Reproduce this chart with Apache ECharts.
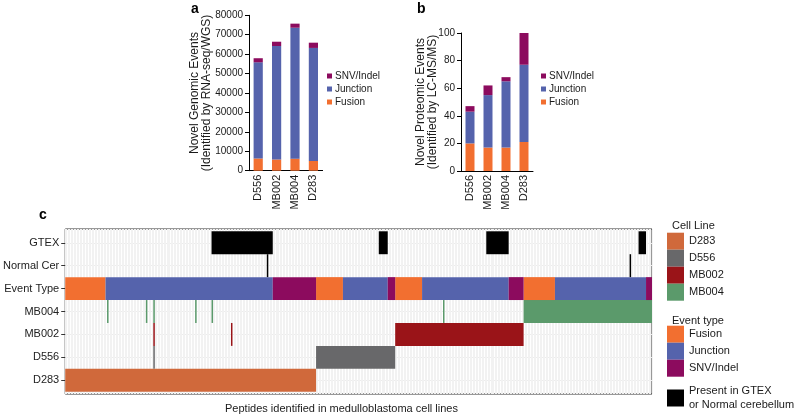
<!DOCTYPE html>
<html>
<head>
<meta charset="utf-8">
<script src="https://cdn.jsdelivr.net/npm/echarts@6/dist/echarts.min.js"></script>
<style>html,body{margin:0;padding:0;background:#fff;}#c{width:798px;height:414px;}</style>
</head>
<body>
<div id="c"></div>
<script>
// ---------- data ----------
const cellLines = ['D556', 'MB002', 'MB004', 'D283'];
const genomicFusion = [6300, 5800, 6200, 5000];
const genomicJunction = [49500, 58400, 67400, 58200];
const genomicSnv = [2100, 2200, 2100, 2700];
const proteomicFusion = [20, 17, 17, 21];
const proteomicJunction = [23, 38, 48, 56];
const proteomicSnv = [4, 7, 3, 23];
const genomicTicks = [0, 10000, 20000, 30000, 40000, 50000, 60000, 70000, 80000];
const proteomicTicks = [0, 20, 40, 60, 80, 100];

// peptide map (panel c): column ranges [start, end) per row
const nPeptides = 393;
const rowNames = ['D283', 'D556', 'MB002', 'MB004', 'Event Type', 'Normal Cer', 'GTEX'];
const d283Cols = [[0, 168]];
const d556Cols = [[59, 60], [168, 221]];
const mb002Cols = [[59, 60], [111, 112], [221, 307]];
const mb004Cols = [[28, 29], [54, 55], [59, 60], [87, 88], [98, 99], [253, 254], [307, 393]];
const fusionCols = [[0, 27], [168, 186], [221, 239], [307, 328]];
const junctionCols = [[27, 139], [186, 216], [239, 297], [328, 389]];
const snvCols = [[139, 168], [216, 221], [297, 307], [389, 393]];
const gtexCols = [[98, 139], [210, 216], [282, 297], [384, 389]];
const normalCerCols = [[135, 136], [378, 379]];

// ---------- style ----------
const FONT = 'Liberation Sans, Arial, Helvetica, sans-serif';
const TXT = '#1a1a1a';
const C = {
  Fusion: '#F26F30', Junction: '#5563AC', SNV: '#8C0B5E',
  D283: '#D0693B', D556: '#68686A', MB002: '#9A1418', MB004: '#5B9A6B', present: '#000000'
};

function rows(cols, r) { return cols.map(c => [c[0], c[1], r]); }
function renderSeg(params, api) {
  const s = api.value(0), e = api.value(1), r = api.value(2);
  const p0 = api.coord([s, r + 0.5]);
  const p1 = api.coord([e, r - 0.5]);
  return { type: 'rect', shape: { x: p0[0], y: p0[1], width: p1[0] - p0[0], height: p1[1] - p0[1] },
           style: { fill: api.visual('color') } };
}
function seg(name, color, data) {
  return { type: 'custom', name: name, xAxisIndex: 2, yAxisIndex: 2, renderItem: renderSeg,
           itemStyle: { color: color }, encode: { x: [0, 1], y: 2 }, data: data, silent: true };
}
function bar(name, color, data, idx) {
  return { type: 'bar', name: name, stack: 's' + idx, xAxisIndex: idx, yAxisIndex: idx,
           barWidth: '50%', itemStyle: { color: color }, data: data };
}

const catAxis = (gi) => ({
  type: 'category', gridIndex: gi, data: cellLines,
  axisLine: { lineStyle: { color: '#000', width: 1 } },
  axisTick: { length: 4, lineStyle: { color: '#000' } },
  axisLabel: { rotate: 90, fontSize: 11, color: TXT, fontFamily: FONT, margin: 4 }
});
const valAxis = (gi, ticks, name, gap) => ({
  type: 'value', gridIndex: gi, min: ticks[0], max: ticks[ticks.length - 1], interval: ticks[1] - ticks[0],
  name: name, nameLocation: 'middle', nameGap: gap, nameMoveOverlap: false,
  nameTextStyle: { fontSize: 12, color: TXT, fontFamily: FONT, lineHeight: 12 },
  axisLine: { show: true, lineStyle: { color: '#000', width: 1 } },
  axisTick: { show: true, length: 4, lineStyle: { color: '#000' } },
  axisLabel: { fontSize: 10, color: TXT, fontFamily: FONT, margin: 6, formatter: v => String(v) },
  splitLine: { show: false }
});

const legendSmall = (left) => ({
  data: ['SNV/Indel', 'Junction', 'Fusion'], orient: 'vertical', left: left, top: 71,
  icon: 'rect', itemWidth: 5, itemHeight: 5, itemGap: 3, padding: 0, selectedMode: false,
  textStyle: { fontSize: 10, color: TXT, fontFamily: FONT, padding: [0, 0, 0, -2] }
});
const legendBig = (data, top, fmt) => ({
  data: data, orient: 'vertical', left: 667, top: top, icon: 'rect',
  itemWidth: 17, itemHeight: 17, itemGap: 0, padding: 0, selectedMode: false,
  formatter: fmt || (n => n),
  textStyle: { fontSize: 11, color: TXT, fontFamily: FONT, lineHeight: 14 }
});

const option = {
  animation: false,
  backgroundColor: '#fff',
  textStyle: { fontFamily: FONT },
  title: [
    { text: 'a', left: 186, top: -3, textStyle: { fontSize: 14, fontWeight: 'bold', color: '#000', fontFamily: FONT } },
    { text: 'b', left: 412, top: -3, textStyle: { fontSize: 14, fontWeight: 'bold', color: '#000', fontFamily: FONT } },
    { text: 'c', left: 34, top: 203, textStyle: { fontSize: 14, fontWeight: 'bold', color: '#000', fontFamily: FONT } },
    { text: 'Cell Line', left: 667, top: 215, textStyle: { fontSize: 11, fontWeight: 'normal', color: TXT, fontFamily: FONT } },
    { text: 'Event type', left: 667, top: 310, textStyle: { fontSize: 11, fontWeight: 'normal', color: TXT, fontFamily: FONT } },
    { text: 'Peptides identified in medulloblastoma cell lines', left: 220, top: 398,
      textStyle: { fontSize: 11, fontWeight: 'normal', color: TXT, fontFamily: FONT } }
  ],
  legend: [
    legendSmall(327),
    legendSmall(541),
    legendBig(['D283', 'D556', 'MB002', 'MB004'], 232.7),
    legendBig(['Fusion', 'Junction', 'SNV/Indel'], 325.7),
    legendBig(['Present in GTEX or Normal cerebellum'], 384, n => 'Present in GTEX\nor Normal cerebellum')
  ],
  grid: [
    { left: 249, top: 15.3, width: 73.6, height: 155.4 },
    { left: 461, top: 33, width: 72, height: 138 },
    { left: 63, top: 229, width: 589, height: 165, show: true, borderColor: '#333', borderWidth: 1, backgroundColor: '#fff' }
  ],
  xAxis: [
    catAxis(0), catAxis(1),
    { type: 'value', gridIndex: 2, min: 0, max: nPeptides, interval: 1,
      axisLine: { show: false }, axisTick: { show: false }, axisLabel: { show: false },
      splitLine: { show: true, lineStyle: { color: '#f2f2f2', width: 1 } } }
  ],
  yAxis: [
    valAxis(0, genomicTicks, 'Novel Genomic Events\n(Identified by RNA-seq/WGS)', 36),
    valAxis(1, proteomicTicks, 'Novel Proteomic Events\n(Identified by LC-MS/MS)', 22),
    { type: 'value', gridIndex: 2, min: -0.6, max: 6.6,
      axisLine: { show: false },
      axisTick: { show: true, length: 4, lineStyle: { color: '#333' }, customValues: [0, 1, 2, 3, 4, 5, 6] },
      axisLabel: { fontSize: 11, color: '#222', fontFamily: FONT, margin: 6,
                   customValues: [0, 1, 2, 3, 4, 5, 6], formatter: v => rowNames[Math.round(v)] },
      splitLine: { show: true, lineStyle: { color: '#ececec', width: 1 } } }
  ],
  series: [
    bar('Fusion', C.Fusion, genomicFusion, 0),
    bar('Junction', C.Junction, genomicJunction, 0),
    bar('SNV/Indel', C.SNV, genomicSnv, 0),
    bar('Fusion', C.Fusion, proteomicFusion, 1),
    bar('Junction', C.Junction, proteomicJunction, 1),
    bar('SNV/Indel', C.SNV, proteomicSnv, 1),
    seg('D283', C.D283, rows(d283Cols, 0)),
    seg('D556', C.D556, rows(d556Cols, 1)),
    seg('MB002', C.MB002, rows(mb002Cols, 2)),
    seg('MB004', C.MB004, rows(mb004Cols, 3)),
    seg('Fusion', C.Fusion, rows(fusionCols, 4)),
    seg('Junction', C.Junction, rows(junctionCols, 4)),
    seg('SNV/Indel', C.SNV, rows(snvCols, 4)),
    seg('Present in GTEX or Normal cerebellum', C.present, rows(normalCerCols, 5).concat(rows(gtexCols, 6)))
  ]
};

const chart = echarts.init(document.getElementById('c'), null, { renderer: 'canvas' });
chart.setOption(option);
</script>
</body>
</html>
